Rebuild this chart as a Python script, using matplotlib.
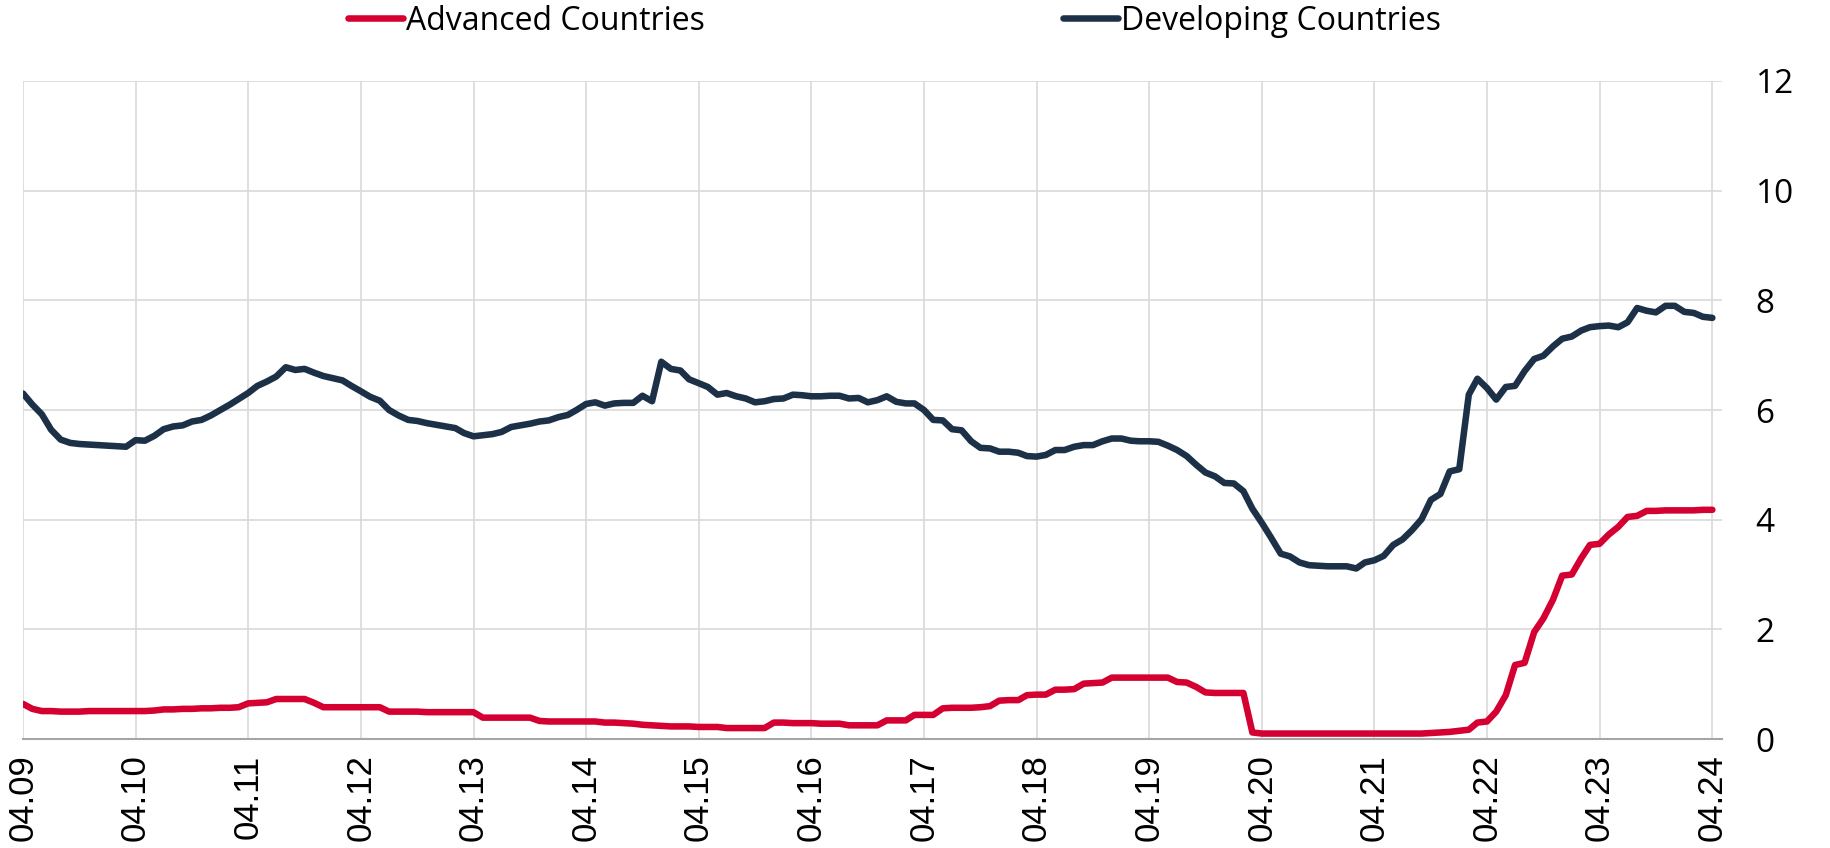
import numpy as np
import pandas as pd
import matplotlib
matplotlib.use("Agg")
import matplotlib.pyplot as plt
import matplotlib.dates as mdates

plt.rcParams["font.family"] = ["Open Sans", "DejaVu Sans"]

# Monthly series, April 2009 to April 2024
dates = pd.date_range("2009-04-01", periods=181, freq="MS")

advanced = [
    0.64, 0.55, 0.51, 0.51, 0.50, 0.50, 0.50, 0.51, 0.51, 0.51, 0.51, 0.51,
    0.51, 0.51, 0.52, 0.54, 0.54, 0.55, 0.55, 0.56, 0.56, 0.57, 0.57, 0.58,
    0.65, 0.66, 0.67, 0.73, 0.73, 0.73, 0.73, 0.66, 0.58, 0.58, 0.58, 0.58,
    0.58, 0.58, 0.58, 0.50, 0.50, 0.50, 0.50, 0.49, 0.49, 0.49, 0.49, 0.49,
    0.49, 0.39, 0.39, 0.39, 0.39, 0.39, 0.39, 0.33, 0.32, 0.32, 0.32, 0.32,
    0.32, 0.32, 0.30, 0.30, 0.29, 0.28, 0.26, 0.25, 0.24, 0.23, 0.23, 0.23,
    0.22, 0.22, 0.22, 0.20, 0.20, 0.20, 0.20, 0.20, 0.30, 0.30, 0.29, 0.29,
    0.29, 0.28, 0.28, 0.28, 0.25, 0.25, 0.25, 0.25, 0.34, 0.34, 0.34, 0.44,
    0.44, 0.44, 0.56, 0.57, 0.57, 0.57, 0.58, 0.60, 0.70, 0.71, 0.71, 0.80,
    0.81, 0.81, 0.90, 0.90, 0.91, 1.01, 1.02, 1.03, 1.12, 1.12, 1.12, 1.12,
    1.12, 1.12, 1.12, 1.04, 1.03, 0.95, 0.85, 0.84, 0.84, 0.84, 0.84, 0.12,
    0.10, 0.10, 0.10, 0.10, 0.10, 0.10, 0.10, 0.10, 0.10, 0.10, 0.10, 0.10,
    0.10, 0.10, 0.10, 0.10, 0.10, 0.10, 0.11, 0.12, 0.13, 0.15, 0.17, 0.30,
    0.32, 0.50, 0.80, 1.35, 1.39, 1.95, 2.20, 2.54, 2.98, 3.00, 3.30, 3.54,
    3.56, 3.73, 3.87, 4.05, 4.07, 4.16, 4.16, 4.17, 4.17, 4.17, 4.17, 4.18,
    4.18,
]

developing = [
    6.30, 6.10, 5.92, 5.64, 5.46, 5.40, 5.38, 5.37, 5.36, 5.35, 5.34, 5.33,
    5.45, 5.44, 5.53, 5.65, 5.70, 5.72, 5.79, 5.82, 5.90, 6.00, 6.10, 6.20,
    6.31, 6.44, 6.52, 6.61, 6.78, 6.73, 6.75, 6.68, 6.62, 6.58, 6.54, 6.44,
    6.34, 6.24, 6.17, 6.00, 5.90, 5.82, 5.80, 5.76, 5.73, 5.70, 5.67, 5.58,
    5.52, 5.54, 5.56, 5.60, 5.69, 5.72, 5.75, 5.79, 5.81, 5.87, 5.91, 6.00,
    6.11, 6.14, 6.08, 6.12, 6.13, 6.13, 6.26, 6.16, 6.88, 6.75, 6.72, 6.56,
    6.49, 6.42, 6.28, 6.31, 6.25, 6.21, 6.14, 6.16, 6.20, 6.21, 6.28, 6.27,
    6.25, 6.25, 6.26, 6.26, 6.21, 6.22, 6.14, 6.18, 6.25, 6.15, 6.12, 6.12,
    6.00, 5.82, 5.81, 5.65, 5.63, 5.43, 5.31, 5.30, 5.24, 5.24, 5.22, 5.16,
    5.15, 5.18, 5.27, 5.27, 5.33, 5.36, 5.36, 5.43, 5.48, 5.48, 5.44, 5.43,
    5.43, 5.42, 5.35, 5.27, 5.16, 5.00, 4.86, 4.79, 4.67, 4.66, 4.52, 4.20,
    3.94, 3.67, 3.38, 3.33, 3.22, 3.17, 3.16, 3.15, 3.15, 3.15, 3.11, 3.22,
    3.26, 3.34, 3.54, 3.64, 3.81, 4.01, 4.36, 4.47, 4.88, 4.92, 6.28, 6.57,
    6.40, 6.19, 6.42, 6.44, 6.71, 6.93, 6.99, 7.16, 7.30, 7.34, 7.45, 7.51,
    7.53, 7.54, 7.51, 7.60, 7.86, 7.81, 7.78, 7.90, 7.90, 7.79, 7.77, 7.70,
    7.68,
]

series_names = ["Advanced Countries", "Developing Countries"]
colors = ["#D50032", "#1C3147"]
y_ticks = [0, 2, 4, 6, 8, 10, 12]

fig = plt.figure(figsize=(18.31, 8.48), dpi=100)
ax = fig.add_axes([0.0126, 0.1285, 0.928, 0.776])

for vals, name, col in zip([advanced, developing], series_names, colors):
    ax.plot(dates, vals, color=col, lw=4.7, label=name,
            solid_capstyle="round", solid_joinstyle="round", zorder=3)

# axes ranges
ax.set_ylim(0, 12)
ax.set_xlim(dates[0], dates[-1] + pd.Timedelta(days=32))
ax.set_yticks(y_ticks)
ax.xaxis.set_major_locator(mdates.MonthLocator(bymonth=4, bymonthday=1))
ax.xaxis.set_major_formatter(mdates.DateFormatter("%m.%y"))

ax.grid(True, color="#D9D9D9", lw=1.2, zorder=0)
for s in ["left", "right", "top"]:
    ax.spines[s].set_visible(False)
ax.spines["bottom"].set_color("#A6A6A6")
ax.spines["bottom"].set_linewidth(1.5)

ax.yaxis.tick_right()
ax.tick_params(axis="y", length=0, pad=24, labelsize=24)
ax.tick_params(axis="x", length=0, pad=11)
for lbl in ax.get_yticklabels():
    lbl.set_horizontalalignment("left")
for lbl in ax.get_xticklabels():
    lbl.set_fontfamily("Liberation Sans")
    lbl.set_fontsize(25)
    lbl.set_rotation(90)
    lbl.set_verticalalignment("top")
    lbl.set_horizontalalignment("center")

leg = fig.legend(loc="center left", bbox_to_anchor=(0.190, 1 - 21 / 848), ncol=2,
                 frameon=False, borderpad=0, borderaxespad=0,
                 handlelength=1.72, handletextpad=0.1,
                 columnspacing=11.2, prop={"size": 23})
for h in leg.get_lines():
    h.set_linewidth(4.7)

fig.savefig("out.png", dpi=100)
